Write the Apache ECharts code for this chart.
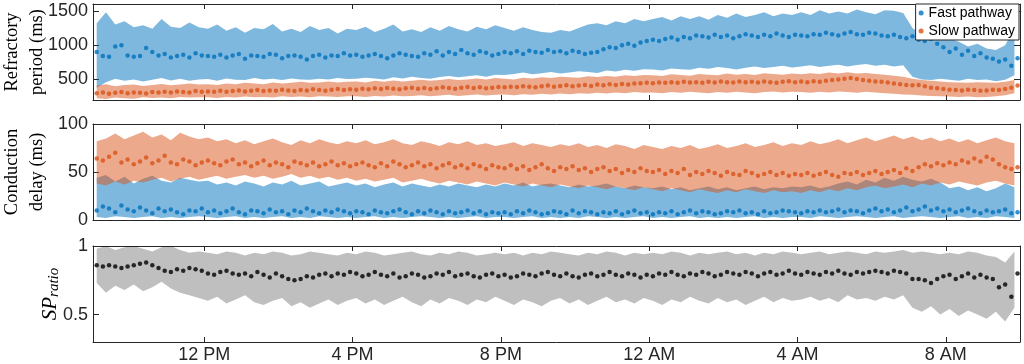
<!DOCTYPE html>
<html>
<head>
<meta charset="utf-8">
<script src="https://cdn.jsdelivr.net/npm/echarts@6.0.0/dist/echarts.min.js"></script>
<style>
  html, body { margin: 0; padding: 0; background: #fff; }
  #chart { width: 1024px; height: 364px; }
</style>
</head>
<body>
<div id="chart"></div>
<script>
// x axis: hours since midnight of day 1 (9 AM .. 10 AM next day)
const xMin = 9, xMax = 34;
const xTicks = [12, 16, 20, 24, 28, 32];
const xTickLabels = ['12 PM', '4 PM', '8 PM', '12 AM', '4 AM', '8 AM'];

// sample times: dots every 10 min, bands every 15 min
const dotStart = 9.1, dotStep = 1 / 6;
const bandStart = 9.1, bandStep = 0.25;

// --- Refractory period (ms) ---
const fastRP = [
  900,840,830,980,1000,850,830,840,960,900,850,870,820,840,860,820,880,850,
  840,830,860,820,850,870,800,850,840,830,870,860,810,840,850,830,790,840,860,820,850,840,880,850,
  860,830,850,870,840,810,850,880,860,840,830,880,860,910,850,900,870,930,880,860,910,890,850,870,
  900,880,910,870,920,900,890,930,900,910,880,920,900,870,890,900,940,970,960,1000,1020,990,1040,1060,
  1080,1060,1090,1110,1080,1120,1100,1140,1130,1110,1150,1120,1140,1100,1130,1160,1140,1120,1150,1130,1170,1140,1120,1150,
  1140,1130,1160,1150,1180,1160,1140,1170,1190,1160,1150,1180,1170,1140,1130,1150,1120,1100,1130,1080,1060,1090,1020,970,
  900,950,860,920,840,880,820,800,760,790,700,810
];
const slowRP = [
  300,310,290,305,315,300,310,305,295,315,310,320,310,325,315,310,330,320,
  325,320,335,320,330,340,325,335,345,330,340,335,350,340,330,345,340,355,345,335,350,360,345,355,
  350,365,355,370,360,375,365,355,370,380,365,375,360,370,385,375,365,380,390,375,385,370,380,390,
  385,395,390,400,395,385,400,410,395,405,415,400,410,420,405,425,415,430,420,435,425,440,445,450,
  445,455,450,460,450,465,455,460,450,465,455,470,460,455,470,460,465,455,470,460,450,465,475,460,
  470,460,475,465,480,490,500,510,520,505,490,480,470,465,455,440,430,420,415,420,400,380,370,360,
  350,345,340,350,345,335,340,350,345,360,380,410
];
const fastRPHi = [
  1320,1480,1300,1350,1260,1290,1240,1380,1270,1250,1330,1260,
  1240,1300,1210,1260,1180,1250,1230,1310,1200,1240,1190,1280,1220,1250,1170,1240,
  1220,1270,1190,1240,1300,1200,1230,1190,1260,1210,1280,1230,1200,1270,1230,1290,
  1250,1210,1260,1220,1190,1180,1220,1200,1250,1300,1320,1290,1350,1320,1380,1350,
  1380,1410,1360,1420,1380,1420,1370,1440,1400,1460,1410,1440,1480,1420,1460,1440,
  1480,1440,1510,1460,1490,1460,1520,1480,1450,1510,1500,1470,1250,1150,1180,1080,
  1100,1050,980,1020,950,930,1000,1250
];
const fastRPLo = [
  380,460,510,480,500,470,495,520,485,510,480,500,
  505,480,515,495,490,520,500,510,490,515,500,495,510,500,520,505,
  510,525,515,500,530,515,540,520,510,535,550,530,545,560,540,570,
  565,580,600,575,590,610,585,600,620,610,595,630,615,640,625,650,
  645,630,660,650,640,670,655,680,665,645,670,690,665,680,700,675,
  690,705,680,700,715,690,710,725,700,715,690,705,540,500,490,510,
  495,480,510,490,500,475,495,560
];
const slowRPHi = [
  410,430,400,420,425,405,420,435,415,425,440,425,
  430,420,440,430,450,440,430,455,440,450,465,450,455,470,455,465,
  470,455,480,465,485,470,480,495,480,490,505,490,500,515,500,520,
  510,500,525,515,530,520,540,530,525,545,535,550,540,560,550,565,
  560,550,575,565,555,580,570,560,585,570,580,565,590,580,570,585,
  575,590,580,600,585,605,585,595,580,570,555,540,510,490,480,470,
  460,455,450,460,455,450,465,490
];
const slowRPLo = [
  225,215,235,225,220,240,230,235,225,245,235,240,
  240,230,245,235,250,240,245,235,255,245,250,240,255,250,245,255,
  255,245,260,250,265,255,260,270,255,265,275,260,270,280,265,275,
  280,270,285,275,290,280,295,285,300,290,305,295,310,300,315,305,
  310,300,315,305,320,310,300,315,305,320,310,300,315,325,310,320,
  315,305,320,310,325,315,305,320,310,300,290,280,275,265,260,255,
  250,245,250,240,245,255,270,300
];

// --- Conduction delay (ms) ---
const fastCD = [
  10,14,12,8,15,11,9,13,10,7,12,9,11,8,6,10,9,12,
  8,10,7,9,12,8,6,10,9,7,11,8,9,6,10,8,12,9,7,10,8,11,9,7,
  9,8,6,10,8,7,9,11,8,6,9,7,10,8,6,9,7,8,10,7,9,6,8,7,
  8,6,9,7,10,8,6,7,9,8,6,10,7,9,8,6,8,7,9,6,8,10,7,8,
  6,8,7,9,6,8,10,7,9,8,6,7,9,8,10,7,8,6,9,7,8,10,9,8,
  7,9,8,10,8,9,11,8,10,9,7,10,12,9,11,8,10,13,9,11,14,10,12,9,
  11,8,10,12,9,7,10,8,9,11,7,8
];
const slowCD = [
  64,62,66,70,60,63,58,61,65,59,62,67,60,58,63,61,57,60,
  62,59,57,61,63,58,60,56,59,62,57,60,58,55,61,59,57,60,56,58,61,57,59,56,
  58,60,57,55,59,56,61,58,55,57,60,56,58,54,57,59,55,57,54,58,56,53,57,55,
  54,57,53,56,52,55,58,54,51,55,53,56,52,54,50,53,55,51,53,49,52,50,54,51,
  50,52,48,51,49,53,47,50,48,51,49,46,50,48,47,51,49,46,48,50,47,49,46,48,
  47,49,46,48,50,47,45,49,48,50,47,49,51,48,50,52,49,54,51,55,58,56,59,57,
  60,58,62,60,64,61,66,63,58,55,53,55
];
const fastCDHi = [
  44,47,40,45,38,43,46,41,39,44,42,40,
  41,37,39,36,40,38,35,39,37,41,36,38,40,35,37,39,
  36,38,34,37,39,35,38,36,34,37,35,38,36,34,37,35,
  38,36,39,35,37,38,36,34,37,35,36,38,35,33,36,34,
  33,35,32,34,31,33,35,32,34,31,33,35,32,34,33,35,
  34,36,33,35,38,40,37,42,39,44,41,45,42,40,43,39,
  33,35,31,34,30,33,38,34
];
const fastCDLo = [
  3,2,4,3,2,3,4,2,3,2,3,4,
  3,2,3,4,2,3,2,3,4,2,3,2,4,3,2,3,
  2,3,4,2,3,2,3,4,3,2,3,2,3,4,2,3,
  3,2,3,4,2,3,2,3,2,4,3,2,3,2,3,4,
  2,3,2,3,4,2,3,2,3,2,3,4,2,3,2,3,
  3,2,4,3,2,3,4,3,2,3,4,2,3,4,3,2,
  3,4,2,3,2,4,3,2
];
const slowCDHi = [
  82,85,90,84,88,92,86,89,83,91,87,84,
  86,82,84,80,83,79,82,85,81,78,83,80,84,81,79,82,
  80,83,79,81,84,80,78,82,80,77,81,79,82,78,80,77,
  79,81,77,80,78,76,79,77,80,76,78,75,79,77,74,78,
  76,74,77,75,78,74,76,79,75,77,80,76,78,81,77,80,
  78,82,79,81,84,80,83,86,82,85,88,84,87,83,86,82,
  85,81,84,80,83,86,82,80
];
const slowCDLo = [
  38,36,40,37,41,39,42,44,40,43,45,42,
  44,46,43,45,47,44,46,43,45,48,44,46,43,45,42,44,
  41,43,40,42,44,39,41,43,40,38,41,39,37,40,38,36,
  39,37,35,38,36,34,37,35,33,36,34,32,35,33,31,34,
  32,30,33,31,29,32,30,28,31,29,32,30,28,31,29,30,
  28,31,29,32,30,33,31,34,36,33,35,37,34,38,36,39,
  37,40,38,36,39,41,38,36
];

// --- SP ratio ---
const spRatio = [
  0.86,0.85,0.86,0.85,0.84,0.85,0.86,0.87,0.88,0.86,0.84,0.82,0.81,0.83,0.82,0.84,0.83,0.82,
  0.80,0.79,0.81,0.82,0.80,0.79,0.80,0.78,0.81,0.79,0.77,0.80,0.78,0.76,0.75,0.76,0.78,0.77,0.79,0.80,0.78,0.80,0.79,0.81,
  0.80,0.78,0.79,0.81,0.79,0.78,0.80,0.77,0.78,0.80,0.79,0.77,0.78,0.80,0.79,0.81,0.78,0.79,0.80,0.78,0.77,0.79,0.80,0.78,
  0.79,0.77,0.78,0.80,0.79,0.78,0.80,0.81,0.79,0.78,0.80,0.78,0.77,0.79,0.80,0.78,0.79,0.81,0.79,0.78,0.80,0.79,0.77,0.79,
  0.78,0.80,0.79,0.81,0.79,0.78,0.80,0.79,0.81,0.80,0.78,0.79,0.81,0.80,0.79,0.81,0.80,0.78,0.80,0.81,0.79,0.80,0.82,0.80,
  0.79,0.81,0.80,0.79,0.81,0.80,0.82,0.80,0.79,0.81,0.80,0.81,0.82,0.81,0.80,0.82,0.81,0.80,0.76,0.76,0.75,0.73,0.76,0.78,
  0.79,0.76,0.78,0.80,0.77,0.79,0.77,0.76,0.70,0.72,0.63,0.80
];
const spHi = [
  0.98,1.0,0.97,0.99,1.0,0.98,0.96,0.99,1.0,0.97,0.95,0.96,
  0.95,0.94,0.96,0.95,0.93,0.95,0.94,0.96,0.95,0.93,0.94,0.96,0.95,0.94,0.93,0.95,
  0.94,0.96,0.95,0.93,0.94,0.95,0.96,0.94,0.93,0.95,0.94,0.96,0.95,0.93,0.94,0.95,
  0.94,0.95,0.93,0.95,0.94,0.96,0.95,0.94,0.93,0.95,0.94,0.96,0.95,0.93,0.95,0.94,
  0.95,0.94,0.96,0.95,0.93,0.95,0.94,0.95,0.96,0.94,0.95,0.93,0.95,0.94,0.96,0.95,
  0.94,0.95,0.96,0.94,0.95,0.96,0.95,0.94,0.96,0.95,0.96,0.97,0.95,0.96,0.95,0.94,
  0.95,0.94,0.96,0.95,0.93,0.92,0.88,0.96
];
const spLo = [
  0.73,0.66,0.71,0.68,0.72,0.67,0.70,0.74,0.69,0.66,0.64,0.62,
  0.60,0.63,0.58,0.61,0.64,0.59,0.57,0.60,0.62,0.56,0.59,0.55,0.58,0.61,0.57,0.60,
  0.62,0.58,0.61,0.57,0.60,0.63,0.59,0.56,0.61,0.58,0.62,0.60,0.57,0.61,0.59,0.63,
  0.60,0.57,0.61,0.59,0.56,0.60,0.62,0.58,0.61,0.57,0.60,0.63,0.59,0.61,0.58,0.62,
  0.60,0.57,0.61,0.59,0.63,0.60,0.58,0.62,0.59,0.61,0.57,0.60,0.63,0.59,0.62,0.60,
  0.61,0.63,0.60,0.62,0.59,0.64,0.61,0.62,0.60,0.63,0.61,0.64,0.55,0.52,0.56,0.50,
  0.54,0.49,0.53,0.50,0.47,0.52,0.45,0.55
];

const AXIS = '#262626';
const BLUE = '#0072BD', ORANGE = '#D95319';
const SANS = '"Liberation Sans", Arial, sans-serif';
const SERIF = '"Liberation Serif", "Times New Roman", serif';

const chart = echarts.init(document.getElementById('chart'));

const dotPairs = vals => vals.map((v, i) => [dotStart + i * dotStep, v]);

// shaded band between lo and hi, drawn as one polygon through the axis scales
function band(g, lo, hi, color) {
  return {
    type: 'custom', xAxisIndex: 2 * g, yAxisIndex: 2 * g, silent: true, z: 1,
    data: lo.map((v, i) => [bandStart + i * bandStep, v, hi[i]]),
    encode: { x: 0, y: [1, 2] },
    renderItem(params, api) {
      if (params.dataIndexInside !== 0) return;
      const top = [], bot = [];
      for (let i = 0; i < params.dataInsideLength; i++) {
        top.push(api.coord([api.value(0, i), api.value(2, i)]));
        bot.push(api.coord([api.value(0, i), api.value(1, i)]));
      }
      return { type: 'polygon', shape: { points: top.concat(bot.reverse()) }, style: { fill: color } };
    }
  };
}

function dots(g, name, vals, color) {
  return {
    type: 'scatter', name, xAxisIndex: 2 * g, yAxisIndex: 2 * g, silent: true, z: 3,
    data: dotPairs(vals), symbolSize: 4.5, itemStyle: { color }
  };
}

const line = { show: true, onZero: false, lineStyle: { color: AXIS, width: 1 } };

function xAxes(g, labels) {
  const base = {
    gridIndex: g, type: 'value', min: xMin, max: xMax, splitLine: { show: false }, axisLine: line,
    axisTick: { show: true, inside: true, length: 5, customValues: xTicks, lineStyle: { color: AXIS } }
  };
  return [
    { ...base, position: 'bottom',
      axisLabel: { show: labels, customValues: xTicks, margin: 4, color: AXIS, fontSize: 18, fontFamily: SANS,
        formatter: v => xTickLabels[xTicks.indexOf(v)] } },
    { ...base, position: 'top', axisLabel: { show: false, customValues: xTicks } }
  ];
}

function yAxes(g, min, max, ticks, name, nameGap, nameTextStyle) {
  const base = {
    gridIndex: g, type: 'value', min, max, splitLine: { show: false }, axisLine: line,
    axisTick: { show: true, inside: true, length: 6, customValues: ticks, lineStyle: { color: AXIS } }
  };
  return [
    { ...base, position: 'left', name, nameLocation: 'middle', nameRotate: 90, nameGap, nameTextStyle,
      nameMoveOverlap: false,
      axisLabel: { customValues: ticks, margin: 5, color: AXIS, fontSize: 18, fontFamily: SANS, formatter: v => String(v) } },
    { ...base, position: 'right', axisLabel: { show: false, customValues: ticks } }
  ];
}

const titleStyle = { fontFamily: SERIF, fontSize: 18.5, lineHeight: 25, color: '#000', align: 'center' };

chart.setOption({
  animation: false,
  grid: [4, 124, 246].map(top => ({ left: 93, right: 4, top, height: 96, outerBoundsMode: 'none' })),
  legend: {
    data: ['Fast pathway', 'Slow pathway'], orient: 'vertical', right: 5, top: 4,
    icon: 'circle', itemWidth: 5, itemHeight: 5, itemGap: 4, selectedMode: false,
    backgroundColor: '#fff', borderColor: AXIS, borderWidth: 1, padding: [2, 4, 2, 3],
    textStyle: { fontFamily: SANS, fontSize: 14, color: '#000' }
  },
  xAxis: [...xAxes(0, false), ...xAxes(1, false), ...xAxes(2, true)],
  yAxis: [
    ...yAxes(0, 200, 1600, [500, 1000, 1500], 'Refractory\nperiod (ms)', 43, titleStyle),
    ...yAxes(1, 0, 100, [0, 50, 100], 'Conduction\ndelay (ms)', 43, titleStyle),
    ...yAxes(2, 0.3, 1, [0.5, 1], '{s|SP}{r|ratio}', 31, {
      rich: {
        s: { fontFamily: SERIF, fontStyle: 'italic', fontSize: 21, color: '#000' },
        r: { fontFamily: SERIF, fontStyle: 'italic', fontSize: 15, color: '#000', padding: [9, 0, 0, 0] }
      }
    })
  ],
  series: [
    band(0, fastRPLo, fastRPHi, 'rgba(0,114,189,0.5)'),
    band(0, slowRPLo, slowRPHi, 'rgba(217,83,25,0.5)'),
    dots(0, 'Fast pathway', fastRP, BLUE),
    dots(0, 'Slow pathway', slowRP, ORANGE),
    band(1, fastCDLo, fastCDHi, 'rgba(0,114,189,0.5)'),
    band(1, slowCDLo, slowCDHi, 'rgba(217,83,25,0.5)'),
    dots(1, 'Fast CD', fastCD, BLUE),
    dots(1, 'Slow CD', slowCD, ORANGE),
    band(2, spLo, spHi, 'rgba(0,0,0,0.25)'),
    dots(2, 'SP ratio', spRatio, '#000')
  ]
});
</script>
</body>
</html>
